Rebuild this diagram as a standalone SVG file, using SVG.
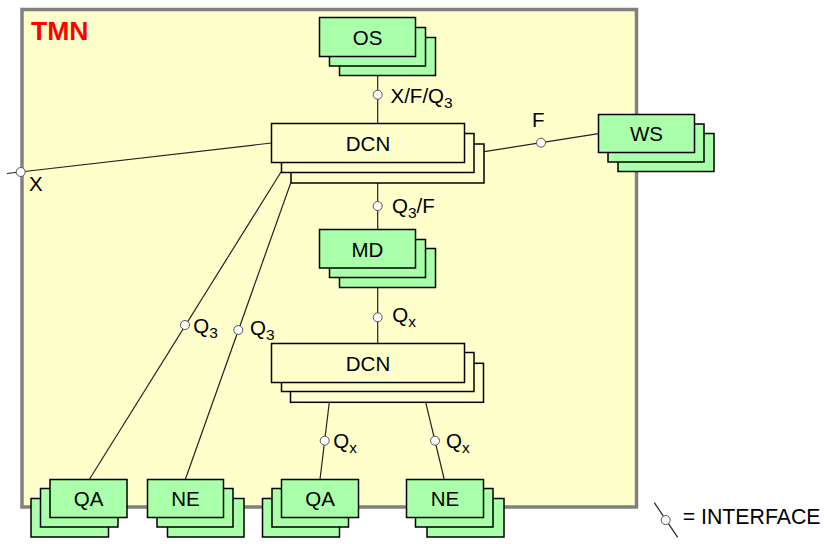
<svg xmlns="http://www.w3.org/2000/svg" width="827" height="544" viewBox="0 0 827 544">
<style>
text{font-family:"Liberation Sans",Arial,sans-serif;fill:#000}
.n{font-size:20.5px;text-anchor:middle}
.l{font-size:20.5px}
.s{font-size:15.5px}
.g{fill:#AAFFAA;stroke:#000;stroke-width:1.5}
.y{fill:#FFFFCC;stroke:#000;stroke-width:1.5}
.c{stroke:#222;stroke-width:1.2;fill:none}
.i{fill:#fff;stroke:#555;stroke-width:1}
</style>
<rect id="tmn" x="22" y="9.5" width="614.5" height="497.5" fill="#FFFFCC" stroke="#808080" stroke-width="3.5"/>
<text x="31" y="40" style="font-size:26.5px;font-weight:bold;fill:#FF0000">TMN</text>
<g id="connectors">
<line class="c" x1="377.7" y1="75" x2="377.7" y2="124"/>
<line class="c" x1="7" y1="173.5" x2="271.5" y2="143"/>
<line class="c" x1="465" y1="154.6" x2="598.5" y2="133.6"/>
<line class="c" x1="281" y1="172" x2="89.3" y2="479.5"/>
<line class="c" x1="290.7" y1="183" x2="185.3" y2="479.5"/>
<line class="c" x1="377.7" y1="183" x2="377.7" y2="229.5"/>
<line class="c" x1="377.7" y1="287" x2="377.7" y2="343.5"/>
<line class="c" x1="329.3" y1="402.3" x2="320" y2="479.5"/>
<line class="c" x1="425.7" y1="402.3" x2="444.3" y2="479.5"/>
<circle class="i" cx="377.7" cy="94.7" r="4.5"/>
<circle class="i" cx="20.7" cy="172" r="4.5"/>
<circle class="i" cx="541" cy="142.7" r="4.5"/>
<circle class="i" cx="185" cy="325" r="4.5"/>
<circle class="i" cx="238.3" cy="330" r="4.5"/>
<circle class="i" cx="377.7" cy="206" r="4.5"/>
<circle class="i" cx="377.7" cy="317.3" r="4.5"/>
<circle class="i" cx="324.7" cy="440.7" r="4.5"/>
<circle class="i" cx="435" cy="440.7" r="4.5"/>
<text class="l" x="390.5" y="102.5">X/F/Q<tspan class="s" dy="5">3</tspan></text>
<text class="l" x="29" y="190.5">X</text>
<text class="l" x="532" y="127">F</text>
<text class="l" x="392" y="213.3">Q<tspan class="s" dy="5">3</tspan><tspan dy="-5">/F</tspan></text>
<text class="l" x="193.3" y="333">Q<tspan class="s" dy="5">3</tspan></text>
<text class="l" x="250" y="335">Q<tspan class="s" dy="5">3</tspan></text>
<text class="l" x="392.3" y="322.3">Q<tspan class="s" dy="5">x</tspan></text>
<text class="l" x="333.3" y="448.3">Q<tspan class="s" dy="5">x</tspan></text>
<text class="l" x="446" y="448.3">Q<tspan class="s" dy="5">x</tspan></text>
</g>
<g id="OS">
<rect class="g" x="339.5" y="37.5" width="96" height="38"/>
<rect class="g" x="329.5" y="27.5" width="96" height="38.5"/>
<rect class="g" x="319.5" y="17.5" width="96" height="39"/>
<text class="n" x="367.5" y="44.5">OS</text>
</g>
<g id="DCN1">
<rect class="y" x="291" y="144" width="193" height="39"/>
<rect class="y" x="281.5" y="133.5" width="192.5" height="39"/>
<rect class="y" x="271.5" y="123.5" width="193" height="39"/>
<text class="n" x="368" y="150.5">DCN</text>
</g>
<g id="WS">
<rect class="g" x="618" y="133.5" width="96" height="38"/>
<rect class="g" x="608" y="124" width="96" height="38"/>
<rect class="g" x="598.5" y="114.5" width="96" height="38"/>
<text class="n" x="646.5" y="141">WS</text>
</g>
<g id="MD">
<rect class="g" x="339.5" y="248.5" width="96" height="39"/>
<rect class="g" x="329.5" y="239.5" width="96" height="38"/>
<rect class="g" x="319.5" y="229.5" width="96" height="38.5"/>
<text class="n" x="367.5" y="256.5">MD</text>
</g>
<g id="DCN2">
<rect class="y" x="290.5" y="363.3" width="193" height="39"/>
<rect class="y" x="281.5" y="352.5" width="192.5" height="39"/>
<rect class="y" x="271.5" y="343.5" width="193" height="39"/>
<text class="n" x="368" y="370.5">DCN</text>
</g>
<g id="QA1">
<rect class="g" x="31" y="498.5" width="77.5" height="38.5"/>
<rect class="g" x="40.5" y="488.5" width="77.5" height="38.5"/>
<rect class="g" x="50" y="479.5" width="77" height="38"/>
<text class="n" x="88.5" y="506">QA</text>
</g>
<g id="NE1">
<rect class="g" x="167.5" y="498.5" width="76.5" height="38.5"/>
<rect class="g" x="157" y="488.5" width="76" height="38.5"/>
<rect class="g" x="147.5" y="479.5" width="76" height="38"/>
<text class="n" x="185.5" y="506">NE</text>
</g>
<g id="QA2">
<rect class="g" x="262.5" y="498.5" width="77" height="38.5"/>
<rect class="g" x="272" y="488.5" width="76.5" height="38.5"/>
<rect class="g" x="281.5" y="479.5" width="77" height="38"/>
<text class="n" x="320" y="506">QA</text>
</g>
<g id="NE2">
<rect class="g" x="427" y="498.5" width="77" height="38.5"/>
<rect class="g" x="415.5" y="488.5" width="77.5" height="38.5"/>
<rect class="g" x="406.5" y="479.5" width="77" height="38"/>
<text class="n" x="445" y="506">NE</text>
</g>
<g id="legend">
<line class="c" x1="654.3" y1="502.7" x2="677.7" y2="537.3" stroke-width="1"/>
<circle class="i" cx="665.7" cy="520" r="4.5"/>
<text x="682.7" y="523.5" style="font-size:21.3px">= INTERFACE</text>
</g>
</svg>
